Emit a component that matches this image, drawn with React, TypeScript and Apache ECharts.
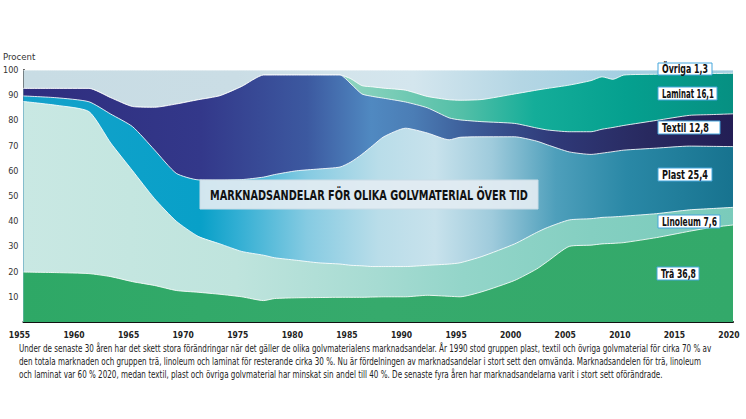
import React, { useEffect, useRef } from "react";
import * as echarts from "echarts";

const years = [1955, 1958, 1961, 1963, 1965, 1967, 1969, 1971, 1973, 1975, 1977, 1978, 1980, 1982, 1984, 1985, 1986, 1987, 1988, 1990, 1992, 1994, 1995, 1997, 2000, 2002, 2003, 2005, 2007, 2008, 2009, 2010, 2013, 2016, 2018, 2020];

const tra = [19.8, 19.6, 19.2, 18, 16, 14.5, 12.5, 11.8, 11, 10, 8.5, 9.3, 9.6, 9.7, 9.8, 9.8, 9.8, 9.9, 10, 10, 10.6, 10.2, 10, 12, 16.5, 21, 24, 30, 30.5, 31, 31.2, 31.5, 33.5, 36, 37.5, 38.5];
const linoleum = [67.7, 66.4, 64.3, 53, 44, 34.5, 27.5, 22.2, 20, 18, 18, 16.2, 14.9, 13.8, 13.2, 12.7, 12.5, 12.1, 12, 12, 11.9, 12.8, 13.5, 14, 14.5, 14.5, 13.5, 10.5, 10.5, 10.5, 10.5, 10.5, 9.5, 8.5, 7.5, 7];
const plast = [2.2, 3, 3.9, 11.5, 17.5, 19.3, 19, 22.4, 25.3, 28.5, 31, 33, 35.5, 37.2, 38.5, 41, 44.2, 48, 51.5, 54.9, 52.5, 49.3, 49.8, 47.5, 42.5, 36.3, 32.8, 27, 25.5, 25.5, 25.9, 26.2, 26, 25.3, 24.7, 24.1];
const textil = [3, 3.7, 5.3, 6.5, 8, 16.9, 27.5, 31.8, 33.5, 37, 40.5, 39.5, 38, 37.3, 36.5, 31, 24, 19.5, 15.3, 10.4, 10, 8.7, 6.9, 6, 5.3, 5.2, 5.9, 8, 9, 9.5, 9.6, 9.8, 11, 12.2, 12.6, 13];
const laminat = [0, 0, 0, 0, 0, 0, 0, 0, 0, 0, 0, 0, 0, 0, 0, 2, 3.3, 3.8, 4, 4.7, 4.5, 7.2, 7.8, 8.8, 11.7, 15, 16.5, 18.5, 20.3, 20.8, 19.1, 20, 18.3, 16.5, 16.3, 16.1];
const ovriga = [7.3, 7.3, 7.3, 11, 14.5, 14.8, 13.5, 11.8, 10.2, 6.5, 2, 2, 2, 2, 2, 3.5, 6.2, 6.7, 7.2, 8, 10.5, 11.8, 12, 11.7, 9.5, 8, 7.3, 6, 4.2, 2.7, 3.7, 2, 1.7, 1.5, 1.4, 1.3];

const seriesNames = ["Trä", "Linoleum", "Plast", "Textil", "Laminat", "Övriga"];
const seriesValues = [tra, linoleum, plast, textil, laminat, ovriga];
const endLabels = ["Trä 36,8", "Linoleum 7,6", "Plast 25,4", "Textil 12,8", "Laminat 16,1", "Övriga 1,3"];

const title = "MARKNADSANDELAR FÖR OLIKA GOLVMATERIAL ÖVER TID";
const yAxisName = "Procent";
const paragraph = [
  "Under de senaste 30 åren har det skett stora förändringar när det gäller de olika golvmaterialens marknadsandelar. År 1990 stod gruppen plast, textil och övriga golvmaterial för cirka 70 % av",
  "den totala marknaden och gruppen trä, linoleum och laminat för resterande cirka 30 %. Nu är fördelningen av marknadsandelar i stort sett den omvända. Marknadsandelen för trä, linoleum",
  "och laminat var 60 % 2020, medan textil, plast och övriga golvmaterial har minskat sin andel till 40 %. De senaste fyra åren har marknadsandelarna varit i stort sett oförändrade.",
];

// styles
const FONT = "'Liberation Sans Narrow', 'DejaVu Sans Condensed', 'Roboto Condensed', 'Liberation Sans', sans-serif";
const gradients: [number, string][][] = [
  [[0, "#2ea866"], [0.5, "#36aa6c"], [1, "#33a96a"]],
  [[0, "#c9e8e3"], [0.3, "#bfe4dd"], [0.5, "#a6dbd2"], [0.62, "#93d5c9"], [0.8, "#84cfc1"], [1, "#7acbbb"]],
  [[0, "#14a2cb"], [0.25, "#08a0c8"], [0.3, "#30aed3"], [0.4, "#86cbe2"], [0.5, "#b9dde9"], [0.58, "#c8e2ec"], [0.66, "#9fcbdc"], [0.75, "#4e9fbb"], [0.85, "#2a88a6"], [1, "#17738f"]],
  [[0, "#2f2d7e"], [0.25, "#33388a"], [0.4, "#3c59a0"], [0.49, "#5089c1"], [0.55, "#4b7db5"], [0.63, "#3c5c98"], [0.75, "#2f3978"], [0.88, "#28295f"], [1, "#231e55"]],
  [[0, "#8fd4c0"], [0.45, "#8fd4c0"], [0.52, "#78ccb6"], [0.62, "#52bfa7"], [0.72, "#14ad99"], [0.85, "#05a08f"], [1, "#069082"]],
  [[0, "#c8dce4"], [0.3, "#cadde5"], [0.45, "#d3e4eb"], [0.55, "#d4e6ee"], [0.7, "#b4d6e4"], [0.85, "#a3cfe2"], [1, "#a2cfe1"]],
];
// label boxes [x, y, w, h] in order of endLabels
const labelBoxes = [
  [657, 267, 42, 13],
  [658, 215, 62, 13],
  [658, 168, 54, 13],
  [658, 121, 62, 13],
  [658, 87, 59, 13],
  [658, 63, 54, 12],
];
const labelTextW = [35, 55, 46, 47, 52, 46];

function measure(text: string, font: string): number {
  const ctx = document.createElement("canvas").getContext("2d");
  if (!ctx) return text.length * 5;
  ctx.font = font;
  return ctx.measureText(text).width;
}

export default function App() {
  const ref = useRef<HTMLDivElement>(null);
  useEffect(() => {
    document.body.style.margin = "0";
    const chart = echarts.init(ref.current!, null, { renderer: "svg" });

    const paraSize = 10;
    const paraW = measure(paragraph[0], `${paraSize}px ${FONT}`);
    const paraScale = 693 / paraW;
    const titleSize = 14;
    const titleW = measure(title, `bold ${titleSize}px ${FONT}`);
    const titleScale = 318 / titleW;

    // cumulative tops (stack built here)
    const cum: number[][] = [];
    seriesValues.forEach((vals, si) => {
      cum.push(vals.map((v, i) => v + (si > 0 ? cum[si - 1][i] : 0)));
    });

    const series: any[] = [];
    for (let si = seriesNames.length - 1; si >= 0; si--) {
      series.push({
        name: seriesNames[si],
        type: "line",
        smooth: 0.2,
        symbol: "none",
        data: years.map((y, i) => [y, Math.min(100, cum[si][i])]),
        lineStyle: { color: "rgba(255,255,255,0.85)", width: 1 },
        areaStyle: {
          opacity: 1,
          origin: "start",
          color: {
            type: "linear",
            x: 0,
            y: 0,
            x2: 1,
            y2: 0,
            colorStops: gradients[si].map(([o, c]) => ({ offset: o, color: c })),
          },
        },
        z: 2 + (seriesNames.length - 1 - si),
      });
    }

    const graphics: any[] = [];
    graphics.push({
      type: "text",
      x: 3,
      y: 56,
      z: 100,
      style: { text: yAxisName, fontSize: 9.5, fontFamily: FONT, fill: "#333", textVerticalAlign: "middle" },
    });
    graphics.push({
      type: "rect",
      z: 100,
      shape: { x: 200, y: 180, width: 338, height: 29 },
      style: { fill: "rgba(226,236,242,0.93)", stroke: "#c9dce6", lineWidth: 1 },
    });
    graphics.push({
      type: "text",
      x: 369,
      y: 195,
      z: 101,
      scaleX: titleScale,
      style: {
        text: title,
        fontSize: titleSize,
        fontWeight: "bold",
        fontFamily: FONT,
        fill: "#111",
        textAlign: "center",
        textVerticalAlign: "middle",
      },
    });
    endLabels.forEach((lab, i) => {
      const [bx, by, bw, bh] = labelBoxes[i];
      const w = measure(lab, `bold 11.5px ${FONT}`);
      graphics.push({
        type: "rect",
        z: 100,
        shape: { x: bx, y: by, width: bw, height: bh },
        style: { fill: "#ffffff", stroke: "#45a6dc", lineWidth: 1 },
      });
      graphics.push({
        type: "text",
        x: bx + 4,
        y: by + bh / 2 + 0.5,
        z: 101,
        scaleX: labelTextW[i] / w,
        style: {
          text: lab,
          fontSize: 11.5,
          fontWeight: "bold",
          fontFamily: FONT,
          fill: "#111",
          textVerticalAlign: "middle",
        },
      });
    });
    paragraph.forEach((line, i) => {
      graphics.push({
        type: "text",
        x: 19,
        y: 349 + i * 13,
        z: 100,
        scaleX: paraScale,
        style: { text: line, fontSize: paraSize, fontFamily: FONT, fill: "#222", textVerticalAlign: "middle" },
      });
    });

    chart.setOption({
      animation: false,
      grid: { left: 20, right: 13, top: 70, bottom: 97, containLabel: false },
      xAxis: {
        type: "value",
        min: 1955,
        max: 2020,
        interval: 5,
        axisLine: { show: true, lineStyle: { color: "#111", width: 2 } },
        axisTick: { show: false },
        splitLine: { show: false },
        axisLabel: {
          margin: 8,
          fontSize: 8.5,
          fontWeight: "bold",
          fontFamily: FONT,
          color: "#222",
          padding: [0, 8, 0, 0],
          formatter: (v: number) => String(v),
        },
      },
      yAxis: {
        type: "value",
        min: 0,
        max: 100,
        interval: 10,
        axisLine: { show: true, lineStyle: { color: "#111", width: 2 } },
        axisTick: { show: false },
        splitLine: { show: false },
        axisLabel: {
          margin: 5,
          fontSize: 9,
          fontFamily: FONT,
          color: "#333",
          formatter: (v: number) => (v === 0 ? "" : String(v)),
        },
      },
      series,
      graphic: graphics,
    });
    return () => chart.dispose();
  }, []);
  return <div ref={ref} style={{ width: 746, height: 419 }} />;
}
